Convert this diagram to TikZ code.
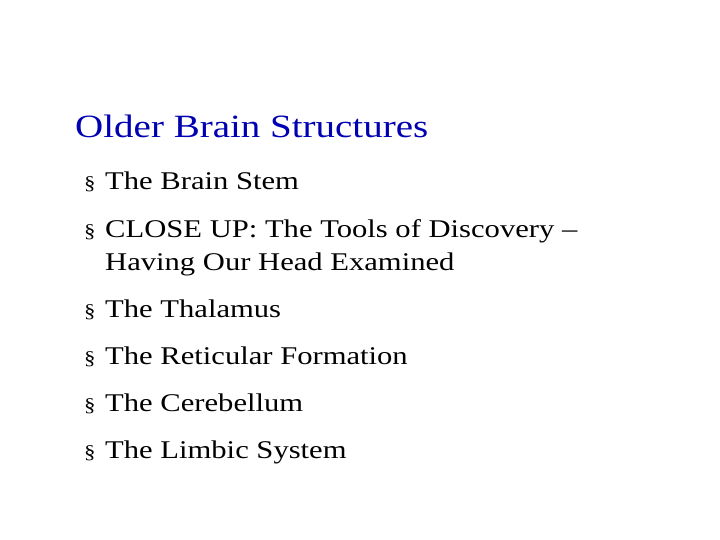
\documentclass[tikz,border=0pt]{standalone}
\usepackage{fontspec}
\setmainfont[FakeStretch=1.2]{Liberation Serif}
\begin{document}
\begin{tikzpicture}[x=1pt,y=-1pt,
  title/.style={anchor=base west,inner sep=0pt,text=blue!70!black,font=\fontsize{32.5}{36}\selectfont},
  item/.style={anchor=base west,inner sep=0pt,font=\fontsize{25.5}{33}\selectfont,align=left},
  bul/.style={anchor=base west,inner sep=0pt,font=\fontsize{19}{24}\selectfont}]
\useasboundingbox (0,0) rectangle (720,540);
\node[title] (t) at (75,138) {Older Brain Structures};
\foreach \y/\txt [count=\i] in {190/The Brain Stem, 237/{CLOSE UP: The Tools of Discovery --},
  317/The Thalamus, 364/The Reticular Formation, 411/The Cerebellum, 458/The Limbic System}{
  \node[bul] (b\i) at (84,\y) {\S};
  \node[item] (i\i) at (105,\y) {\txt};
}
\node[item] (i2b) at (105,270) {Having Our Head Examined};
\end{tikzpicture}
\end{document}
